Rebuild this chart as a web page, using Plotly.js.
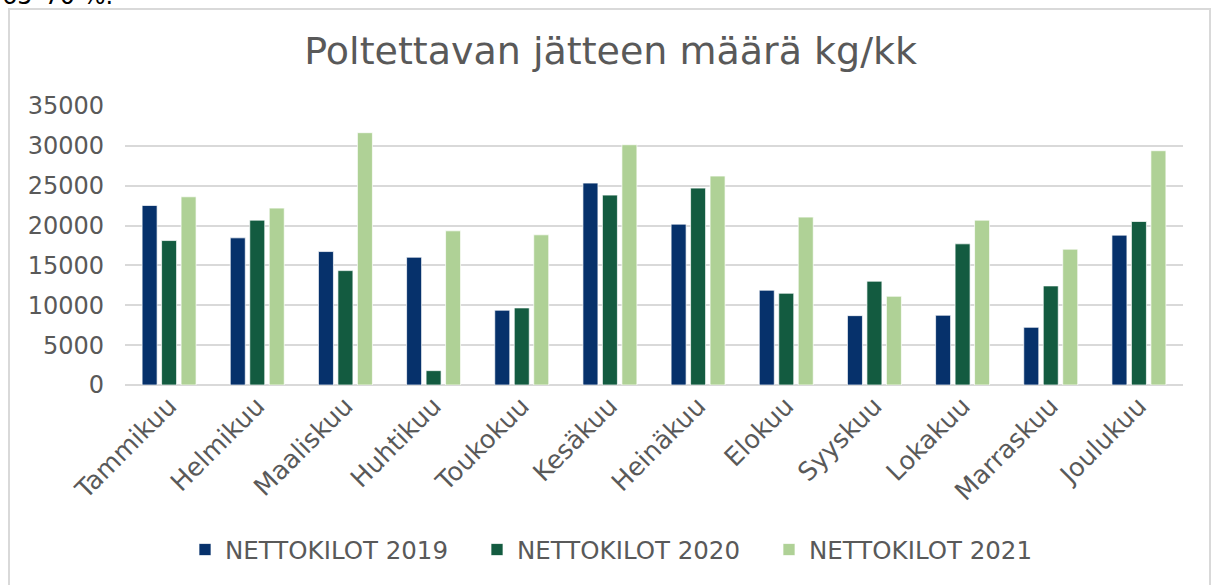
<!DOCTYPE html>
<html>
<head>
<meta charset="utf-8">
<script src="https://cdn.plot.ly/plotly-3.0.1.min.js"></script>
<style>
  html, body { margin: 0; padding: 0; background: #fff; overflow: hidden; }
  #wrap { position: relative; width: 1214px; height: 585px; }
  #chart { width: 1214px; height: 585px; }
  #frame { position: absolute; left: 8px; top: 8px; width: 1203px; height: 600px;
           border: 2px solid #d9d9d9; pointer-events: none; box-sizing: border-box; }
</style>
</head>
<body>
<div id="wrap">
  <div id="chart"></div>
  <div id="frame"></div>
</div>
<script>
const months = ["Tammikuu","Helmikuu","Maaliskuu","Huhtikuu","Toukokuu","Kesäkuu",
                "Heinäkuu","Elokuu","Syyskuu","Lokakuu","Marraskuu","Joulukuu"];
const series2019 = [22520, 18460, 16740, 16030, 9380, 25330, 20180, 11890, 8700, 8750, 7240, 18800];
const series2020 = [18120, 20680, 14350, 1800, 9670, 23820, 24700, 11510, 13020, 17710, 12430, 20510];
const series2021 = [23610, 22190, 31650, 19340, 18840, 30140, 26210, 21060, 11130, 20680, 17040, 29390];
const seriesNames = ["NETTOKILOT 2019", "NETTOKILOT 2020", "NETTOKILOT 2021"];
const yTicks = [0, 5000, 10000, 15000, 20000, 25000, 30000, 35000];

const colors = ["#06316b", "#135b40", "#afd196"];
const font = "'DejaVu Sans', Verdana, sans-serif";

const traces = [series2019, series2020, series2021].map((vals, i) => ({
  type: "bar",
  name: seriesNames[i],
  x: months,
  y: vals,
  marker: { color: colors[i], line: { color: "rgba(255,255,255,0.7)", width: 1 } },
  hoverinfo: "x+y+name"
}));

const layout = {
  width: 1214, height: 585,
  margin: { l: 125, r: 31, t: 106, b: 200 },
  paper_bgcolor: "#ffffff", plot_bgcolor: "#ffffff",
  font: { family: font, color: "#595959", size: 24 },
  title: {
    text: "Poltettavan jätteen määrä kg/kk",
    font: { family: font, size: 38, color: "#595959" },
    x: 0.503, xanchor: "center",
    y: 0.913, yanchor: "middle", yref: "container"
  },
  barmode: "group",
  bargap: 0.337,
  bargroupgap: 0.23,
  xaxis: {
    tickangle: -45,
    tickfont: { family: font, size: 25.5, color: "#595959" },
    ticks: "", showgrid: false, showline: false, zeroline: false,
    automargin: false
  },
  yaxis: {
    range: [0, 35000],
    tickvals: yTicks,
    ticktext: yTicks.map(String),
    tickfont: { family: font, size: 24, color: "#595959" },
    showgrid: true, gridcolor: "#d9d9d9", gridwidth: 1.5,
    zeroline: true, zerolinecolor: "#d9d9d9", zerolinewidth: 1.5,
    showline: false, ticks: "", ticklabelstandoff: 20,
    automargin: false, fixedrange: true
  },
  legend: {
    orientation: "h",
    x: (185 - 125) / 1058, xanchor: "left",
    y: -0.59, yanchor: "middle",
    font: { family: font, size: 24.5, color: "#595959" },
    entrywidth: 247, entrywidthmode: "pixels",
    itemclick: false, itemdoubleclick: false
  },
  annotations: [{
    text: "65–70 %.",
    xref: "paper", yref: "paper",
    x: -0.118, xanchor: "left",
    y: (385 - 12) / 279, yanchor: "bottom",
    showarrow: false,
    font: { family: font, size: 24, color: "#000000" }
  }]
};

Plotly.newPlot("chart", traces, layout, { displayModeBar: false });
</script>
</body>
</html>
